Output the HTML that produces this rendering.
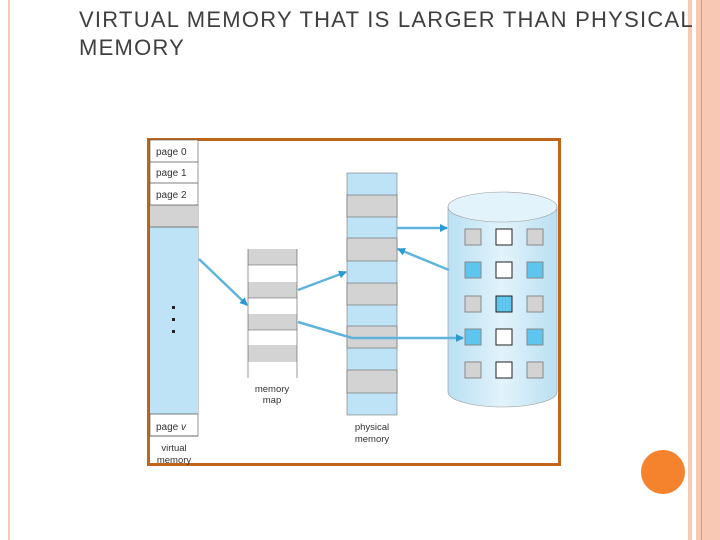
<!DOCTYPE html>
<html><head><style>
body{margin:0;width:720px;height:540px;background:#fff;position:relative;overflow:hidden;font-family:"Liberation Sans",sans-serif}
.t{position:absolute;left:79px;top:6px;font-size:22px;line-height:28px;color:#3f3f3f;letter-spacing:1.25px;white-space:nowrap}
</style></head><body>
<div style="position:absolute;left:8px;top:0;width:2px;height:540px;background:#f8c9b5"></div>
<div style="position:absolute;left:688px;top:0;width:4px;height:540px;background:#f8c9b5"></div>
<div style="position:absolute;left:696px;top:0;width:24px;height:540px;background:#f9c8b4"></div>
<div style="position:absolute;left:701px;top:0;width:1px;height:540px;background:#e09478"></div>
<div class="t">VIRTUAL MEMORY THAT IS LARGER THAN PHYSICAL<br>MEMORY</div>
<svg width="720" height="540" style="position:absolute;left:0;top:0" font-family="Liberation Sans, sans-serif">
<defs>
<linearGradient id="cyl" x1="0" x2="1"><stop offset="0" stop-color="#b9e0f3"/><stop offset="0.5" stop-color="#e2f3fb"/><stop offset="1" stop-color="#b9e0f3"/></linearGradient>
<marker id="ah" markerWidth="8" markerHeight="8" refX="7" refY="4" orient="auto" markerUnits="userSpaceOnUse"><path d="M0,0 L8,4 L0,8 z" fill="#2a9ad0"/></marker>
</defs>
<rect x="148.5" y="139.5" width="411" height="325" fill="#fff" stroke="#c0651c" stroke-width="3"/>
<rect x="150" y="140" width="48" height="296" fill="#fff" stroke="#555" stroke-width="0.6"/>
<rect x="150" y="205" width="48" height="22" fill="#d3d3d3"/>
<rect x="150" y="227" width="48" height="187" fill="#bfe3f6"/>
<g stroke="#555" stroke-width="0.7"><line x1="150" y1="162" x2="198" y2="162"/><line x1="150" y1="183" x2="198" y2="183"/><line x1="150" y1="205" x2="198" y2="205"/><line x1="150" y1="227" x2="198" y2="227"/><line x1="150" y1="414" x2="198" y2="414"/><line x1="150" y1="436" x2="198" y2="436"/></g>
<g font-size="10" fill="#333"><text x="156" y="155">page 0</text><text x="156" y="176">page 1</text><text x="156" y="198">page 2</text><text x="156" y="430">page <tspan font-style="italic">v</tspan></text>
<text x="174" y="451" text-anchor="middle" font-size="9.5">virtual</text><text x="174" y="463" text-anchor="middle" font-size="9.5">memory</text></g>
<g fill="#222"><rect x="172" y="306" width="3" height="3"/><rect x="172" y="318" width="3" height="3"/><rect x="172" y="330" width="3" height="3"/></g>
<rect x="248" y="249" width="49" height="129" fill="#fff"/>
<g fill="#d3d3d3"><rect x="248" y="249" width="49" height="16"/><rect x="248" y="282" width="49" height="16"/><rect x="248" y="314" width="49" height="16"/><rect x="248" y="345" width="49" height="17"/></g>
<g stroke="#555" stroke-width="0.6"><line x1="248" y1="265" x2="297" y2="265"/><line x1="248" y1="298" x2="297" y2="298"/><line x1="248" y1="330" x2="297" y2="330"/><line x1="248" y1="249" x2="248" y2="378"/><line x1="297" y1="249" x2="297" y2="378"/></g>
<text x="272" y="392" text-anchor="middle" font-size="9.5" fill="#333">memory</text><text x="272" y="403" text-anchor="middle" font-size="9.5" fill="#333">map</text>
<rect x="347" y="173" width="50" height="242" fill="#bfe3f6" stroke="#777" stroke-width="0.6"/>
<g fill="#d3d3d3" stroke="#666" stroke-width="0.6"><rect x="347" y="195" width="50" height="22"/><rect x="347" y="238" width="50" height="23"/><rect x="347" y="283" width="50" height="22"/><rect x="347" y="326" width="50" height="22"/><rect x="347" y="370" width="50" height="23"/></g>
<text x="372" y="430" text-anchor="middle" font-size="9.5" fill="#333">physical</text><text x="372" y="442" text-anchor="middle" font-size="9.5" fill="#333">memory</text>
<path d="M448,207 L448,392 A54.5,15 0 0 0 557,392 L557,207 Z" fill="url(#cyl)" stroke="#999" stroke-width="0.6"/>
<ellipse cx="502.5" cy="207" rx="54.5" ry="15" fill="#e3f3fb" stroke="#999" stroke-width="0.6"/>
<g stroke-width="1">
<rect x="465" y="229" width="16" height="16" fill="#d3d3d3" stroke="#888"/><rect x="496" y="229" width="16" height="16" fill="#fff" stroke="#222"/><rect x="527" y="229" width="16" height="16" fill="#d3d3d3" stroke="#888"/>
<rect x="465" y="262" width="16" height="16" fill="#5ec6ee" stroke="#888"/><rect x="496" y="262" width="16" height="16" fill="#fff" stroke="#222"/><rect x="527" y="262" width="16" height="16" fill="#5ec6ee" stroke="#888"/>
<rect x="465" y="296" width="16" height="16" fill="#d3d3d3" stroke="#888"/><rect x="496" y="296" width="16" height="16" fill="#5ec6ee" stroke="#222"/><rect x="527" y="296" width="16" height="16" fill="#d3d3d3" stroke="#888"/>
<rect x="465" y="329" width="16" height="16" fill="#5ec6ee" stroke="#888"/><rect x="496" y="329" width="16" height="16" fill="#fff" stroke="#222"/><rect x="527" y="329" width="16" height="16" fill="#5ec6ee" stroke="#888"/>
<rect x="465" y="362" width="16" height="16" fill="#d3d3d3" stroke="#888"/><rect x="496" y="362" width="16" height="16" fill="#fff" stroke="#222"/><rect x="527" y="362" width="16" height="16" fill="#d3d3d3" stroke="#888"/>
</g>
<g stroke="#5fb4dc" stroke-width="2.5" fill="none" marker-end="url(#ah)">
<line x1="199" y1="259" x2="247" y2="305"/>
<line x1="298" y1="290" x2="346" y2="272"/>
<polyline points="298,322 352,338 463,338"/>
<line x1="397" y1="228" x2="447" y2="228"/>
<line x1="449" y1="270" x2="398" y2="249"/>
</g>
<circle cx="663" cy="472" r="22" fill="#f5832e"/>
</svg>
</body></html>
